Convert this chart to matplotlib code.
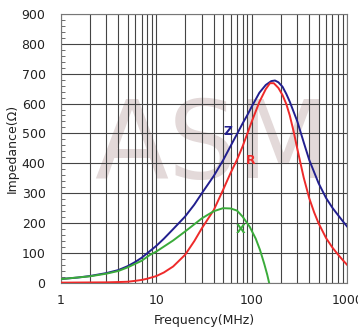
import matplotlib
matplotlib.use("Agg")
import matplotlib.pyplot as plt
from matplotlib.ticker import MultipleLocator, FixedLocator, NullFormatter

# ── data (frequency in MHz, impedance in ohm)
freq_z = [1, 1.5, 2, 3, 4, 5, 6, 7, 8, 10, 12, 15, 20, 25, 30, 40, 50, 60, 70, 80, 90,
          100, 120, 140, 160, 175, 190, 210, 230, 250, 300, 350, 400, 500, 600, 700, 800,
          900, 1000]
imp_z = [13, 18, 23, 33, 43, 56, 70, 84, 99, 124, 148, 180, 222, 262, 300, 358, 410, 458,
         498, 533, 562, 590, 636, 662, 675, 677, 671, 656, 632, 606, 540, 470, 411, 334,
         284, 251, 227, 206, 188]

freq_r = [1, 3, 4, 5, 6, 7, 8, 10, 12, 15, 20, 25, 30, 40, 50, 60, 70, 80, 100, 120, 140,
          155, 170, 190, 210, 230, 250, 275, 300, 325, 350, 400, 450, 500, 600, 700, 800,
          900, 1000]
imp_r = [1, 2, 3, 4, 7, 10, 14, 23, 35, 55, 94, 140, 183, 244, 311, 368, 412, 456, 540,
         605, 648, 668, 668, 652, 628, 598, 560, 505, 448, 398, 352, 283, 236, 200, 150,
         118, 95, 76, 60]

freq_x = [1, 2, 3, 4, 5, 7, 8.6, 10, 15, 20, 30, 40, 50, 60, 70, 80, 95, 110, 122, 135,
          145, 152]
imp_x = [13, 22, 31, 40, 52, 74, 94, 105, 142, 172, 216, 240, 250, 249, 242, 222, 188,
         148, 110, 64, 28, 0]

x_ticks = [1, 10, 100, 1000]
x_ticklabels = ["1", "10", "100", "1000"]
y_ticks = list(range(0, 1000, 100))

C_Z, C_R, C_X = "#221f8f", "#ee2a2a", "#3aab3a"
TXT = "#222222"

fig = plt.figure(figsize=(3.58, 3.29), dpi=100)
ax = fig.add_axes([0.170, 0.140, 0.800, 0.818])

# watermark
ax.text(0.53, 0.50, "ASM", transform=ax.transAxes, fontsize=78,
        family="DejaVu Sans", color="#e3d9d9",
        ha="center", va="center", zorder=0)

ax.plot(freq_z, imp_z, color=C_Z, lw=1.4, zorder=4)
ax.plot(freq_r, imp_r, color=C_R, lw=1.4, zorder=4)
ax.plot(freq_x, imp_x, color=C_X, lw=1.4, zorder=4)

ax.set_xscale("log")
ax.set_xlim(1, 1000)
ax.set_ylim(0, 900)

# curve labels
ax.text(57, 505, "Z", color=C_Z, fontsize=9, fontweight="bold", ha="center", va="center")
ax.text(98, 408, "R", color=C_R, fontsize=9, fontweight="bold", ha="center", va="center")
ax.text(76, 180, "X", color=C_X, fontsize=9, fontweight="bold", ha="center", va="center")

# grid
ax.xaxis.set_major_locator(FixedLocator(x_ticks))
ax.set_xticklabels(x_ticklabels)
minor_x = [m * 10 ** d for d in range(3) for m in range(2, 10)]
ax.xaxis.set_minor_locator(FixedLocator(minor_x))
ax.xaxis.set_minor_formatter(NullFormatter())
ax.yaxis.set_major_locator(FixedLocator(y_ticks))
ax.yaxis.set_minor_locator(MultipleLocator(20))
ax.grid(which="major", color="#444444", lw=0.8, zorder=1)
ax.grid(which="minor", axis="x", color="#444444", lw=0.8, zorder=1)

ax.tick_params(axis="x", which="major", length=0, labelsize=9,
               labelcolor=TXT, pad=8)
ax.tick_params(axis="y", which="major", length=0, labelsize=9,
               labelcolor=TXT, pad=11)
ax.tick_params(axis="x", which="minor", length=0)
ax.tick_params(axis="y", which="minor", direction="in", length=3,
               color="#555555", width=0.6)

for s in ax.spines.values():
    s.set_color("#777777")
    s.set_linewidth(0.8)

ax.set_xlabel("Frequency(MHz)", fontsize=9, color=TXT, labelpad=5)
ax.set_ylabel("Impedance(Ω)", fontsize=9, color=TXT, labelpad=2)

fig.savefig("out.png", dpi=100, facecolor="white")
